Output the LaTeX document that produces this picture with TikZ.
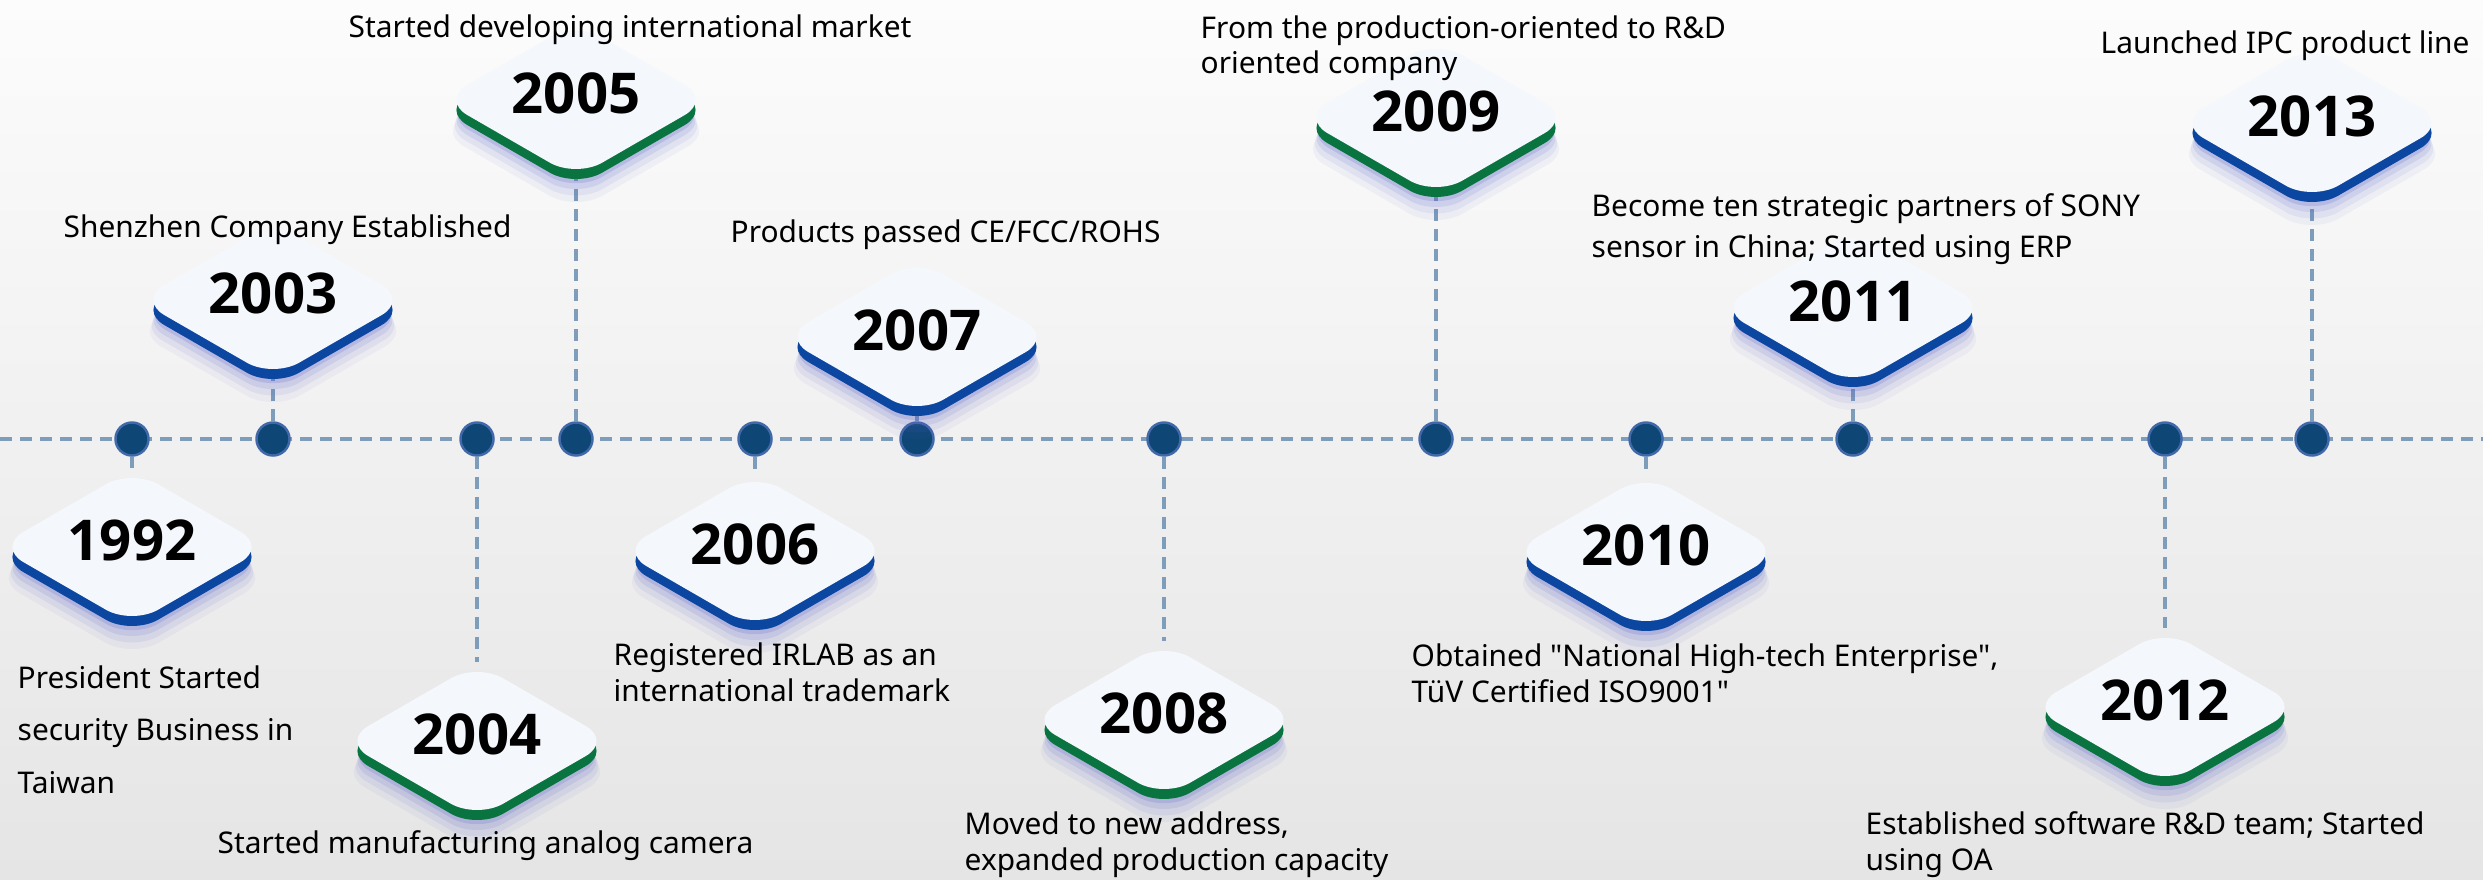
\documentclass[tikz,border=0pt]{standalone}
\usepackage{fontspec}
\setmainfont{Noto Sans}[Ligatures=TeXOff]
\IfFontExistsTF{Noto Sans Bold}{\newfontfamily\yearfont{Noto Sans Bold}}
  {\IfFontExistsTF{Open Sans Bold}{\newfontfamily\yearfont{Open Sans Bold}}
    {\newfontfamily\yearfont{Noto Sans}[FakeBold=3]}}
\usetikzlibrary{calc,positioning,shapes.geometric,shadows,backgrounds}
\definecolor{linkblue}{HTML}{7D9DBA}
\definecolor{dotfill}{HTML}{0E4675}
\definecolor{dotrim}{HTML}{4169AA}
\definecolor{edgeblue}{HTML}{0B46A0}
\definecolor{edgegreen}{HTML}{0A7440}
\definecolor{facecol}{HTML}{F4F7FC}
\definecolor{glowcol}{HTML}{5A62C8}
\definecolor{bgtop}{HTML}{FCFCFC}
\definecolor{bgbottom}{HTML}{E5E5E5}
\tikzset{time dot/.style={circle,draw=dotrim,fill=dotfill,line width=0.7pt,minimum size=0.33cm,inner sep=0pt},
  time link/.style={draw=linkblue,line width=1pt,dash pattern=on 0.12cm off 0.08cm},
  year box/.style={diamond,aspect=1.7,minimum width=2.7cm,minimum height=1.56cm,inner sep=0pt,
    rounded corners=0.3cm,fill=facecol,font=\yearfont\fontsize{16}{16}\selectfont,text depth=0.13cm,
    general shadow={fill=glowcol,opacity=0.06,shadow yshift=-0.3cm,shadow scale=1.03},
    general shadow={fill=glowcol,opacity=0.09,shadow yshift=-0.25cm,shadow scale=1.015},
    general shadow={fill=glowcol,opacity=0.13,shadow yshift=-0.2cm},
    general shadow={fill=glowcol,opacity=0.2,shadow yshift=-0.15cm,shadow scale=0.99}},
  blue year/.style={year box,general shadow={fill=edgeblue,shadow yshift=-0.1cm}},
  green year/.style={year box,general shadow={fill=edgegreen,shadow yshift=-0.1cm}},
  event text/.style={anchor=base west,inner sep=0pt,align=left,font=\fontsize{8.5}{10.2}\selectfont}}

\begin{document}
\begin{tikzpicture}[x=0.01cm,y=-0.01cm]
\useasboundingbox (0,0) rectangle (2483,879);

% Dots on the time line
\node[time dot] (d1992) at (132,439) {};
\node[time dot] (d2003) at (273,439) {};
\node[time dot] (d2004) at (477,439) {};
\node[time dot] (d2005) at (576,439) {};
\node[time dot] (d2006) at (755,439) {};
\node[time dot] (d2007) at (917,439) {};
\node[time dot] (d2008) at (1164,439) {};
\node[time dot] (d2009) at (1436,439) {};
\node[time dot] (d2010) at (1646,439) {};
\node[time dot] (d2011) at (1853,439) {};
\node[time dot] (d2012) at (2165,439) {};
\node[time dot] (d2013) at (2312,439) {};
\coordinate (tl start) at (0,439);
\coordinate (tl end) at (2483,439);

% Year diamonds
\node[blue year] (y1992) at (132,547) {1992};
\node[blue year] (y2003) at (273,300) {2003};
\node[green year] (y2004) at (477,741) {2004};
\node[green year] (y2005) at (576,100) {2005};
\node[blue year] (y2006) at (755,551) {2006};
\node[blue year] (y2007) at (917,337) {2007};
\node[green year] (y2008) at (1164,720) {2008};
\node[green year] (y2009) at (1436,118) {2009};
\node[blue year] (y2010) at (1646,552) {2010};
\node[blue year] (y2011) at (1853,308) {2011};
\node[green year] (y2012) at (2165,707) {2012};
\node[blue year] (y2013) at (2312,123) {2013};

% Texts of the events (base = last line)
\node[event text, font=\fontsize{8.5}{14.8}\selectfont] (e1992) at (17,793) {President Started\\security Business in\\Taiwan};
\node[event text] (e2003) at (63,237) {Shenzhen Company Established};
\node[event text] (e2004) at (217,853) {Started manufacturing analog camera};
\node[event text] (e2005) at (348,38) {Started developing international market};
\node[event text] (e2006) at (613,701) {Registered IRLAB as an\\international trademark};
\node[event text] (e2007) at (730,242) {Products passed CE/FCC/ROHS};
\node[event text] (e2008) at (964,870) {Moved to new address,\\expanded production capacity};
\node[event text] (e2009) at (1200,74) {From the production-oriented to R\&D\\oriented company};
\node[event text, font=\fontsize{8.5}{11.4}\selectfont] (e2011) at (1591,257) {Become ten strategic partners of SONY\\sensor in China; Started using ERP};
\node[event text] (e2010) at (1411,702) {Obtained "National High-tech Enterprise",\\TüV Certified ISO9001"};
\node[event text] (e2012) at (1865,870) {Established software R\&D team; Started\\using OA};
\node[event text] (e2013) at (2100,54) {Launched IPC product line};

% Background and dashed links
\begin{scope}[on background layer]
\fill[top color=bgtop,bottom color=bgbottom] (0,0) rectangle (2483,879);
\draw[time link] (tl start) -- (tl end);
\draw[time link] (d1992) -- (y1992);
\draw[time link] (d2003) -- (y2003);
\draw[time link] (d2004) -- (y2004);
\draw[time link] (d2005) -- (y2005);
\draw[time link] (d2006) -- (y2006);
\draw[time link] (d2007) -- (y2007);
\draw[time link] (d2008) -- (y2008);
\draw[time link] (d2009) -- (y2009);
\draw[time link] (d2010) -- (y2010);
\draw[time link] (d2011) -- (y2011);
\draw[time link] (d2012) -- (y2012);
\draw[time link] (d2013) -- (y2013);
\end{scope}

\end{tikzpicture}
\end{document}
